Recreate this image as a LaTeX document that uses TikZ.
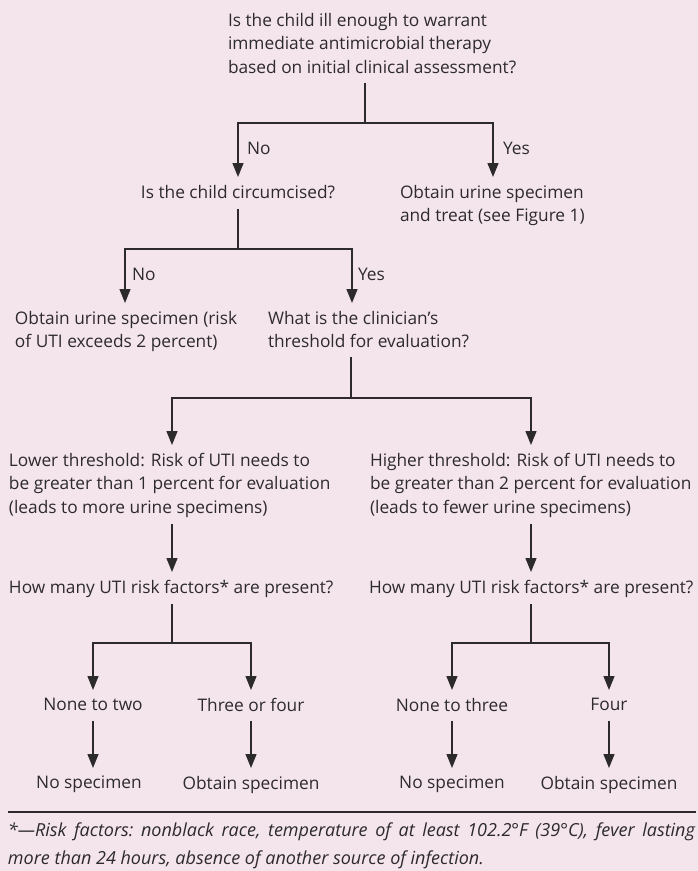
\documentclass[tikz,border=0pt]{standalone}
\usepackage{fontspec}
\setmainfont{Open Sans}
\usepackage{xcolor}
\usetikzlibrary{arrows.meta,positioning,calc}

\definecolor{bgpink}{RGB}{244,229,237}
\definecolor{ink}{RGB}{45,42,44}

\tikzset{
  txt/.style={inner sep=0pt, outer sep=0pt, align=left, text=ink,
    font=\fontsize{17.3}{23.6}\selectfont},
  ans/.style={txt, anchor=base west},
  note/.style={txt, font=\fontsize{18}{28}\selectfont\itshape\frenchspacing},
  link/.style={draw=ink, line width=1.3pt},
  arr/.style={link, -{Triangle[length=14pt,width=11pt]}, shorten >=8pt},
}

\begin{document}
\begin{tikzpicture}[x=1pt,y=-1pt]
    % Background
    \fill[bgpink] (0,0) rectangle (698,871);
    \useasboundingbox (0,0) rectangle (698,871);

    % Questions and outcomes
    \node[txt, anchor=north west] (ill) at (228,13) {Is the child ill enough to warrant\\immediate antimicrobial therapy\\based on initial clinical assessment?};
    \node[txt, anchor=north] (circ) at (238,185) {Is the child circumcised?};
    \node[txt, anchor=north west] (treat) at (400,185) {Obtain urine specimen\\and treat (see Figure 1)};
    \node[txt, anchor=north west] (uncirc) at (15,311) {Obtain urine specimen (risk\\of UTI exceeds 2 percent)};
    \node[txt, anchor=north west] (thresh) at (268,311) {What is the clinician's\\threshold for evaluation?};
    \node[txt, anchor=north west] (lower) at (9,453) {Lower threshold: Risk of UTI needs to\\be greater than 1 percent for evaluation\\(leads to more urine specimens)};
    \node[txt, anchor=north west] (higher) at (370,453) {Higher threshold: Risk of UTI needs to\\be greater than 2 percent for evaluation\\(leads to fewer urine specimens)};
    \node[txt, anchor=north west] (riskL) at (9,580) {How many UTI risk factors* are present?};
    \node[txt, anchor=north west] (riskH) at (369,580) {How many UTI risk factors* are present?};
    \node[txt, anchor=north] (two) at (93,698) {None to two};
    \node[txt, anchor=north] (threefour) at (251,698) {Three or four};
    \node[txt, anchor=north] (three) at (452,698) {None to three};
    \node[txt, anchor=north] (four) at (609,698) {Four};
    \node[txt, anchor=north] (noneL) at (89,776) {No specimen};
    \node[txt, anchor=north] (getL) at (251,776) {Obtain specimen};
    \node[txt, anchor=north] (noneH) at (452,776) {No specimen};
    \node[txt, anchor=north] (getH) at (609,776) {Obtain specimen};

    % Answers
    \node[ans] (no1) at (247,154) {No};
    \node[ans] (yes1) at (503,154) {Yes};
    \node[ans] (no2) at (132,280) {No};
    \node[ans] (yes2) at (358,280) {Yes};

    % Forks
    \coordinate (f1) at (365,123);
    \coordinate (f2) at (238,249);
    \coordinate (f3) at (351,398);
    \coordinate (f4) at (172,643);
    \coordinate (f5) at (531,643);

    \draw[link] ([yshift=-9pt]ill.south -| f1) -- (f1);
    \draw[arr] (f1) -| (circ.north);
    \draw[arr] (f1) -| ([xshift=93pt]treat.north west);

    \draw[link, shorten <=11pt] (circ.south) -- (f2);
    \draw[arr] (f2) -| ([xshift=110pt]uncirc.north west);
    \draw[arr] (f2) -| ([xshift=84pt]thresh.north west);

    \draw[link] ([yshift=-9pt]thresh.south -| f3) -- (f3);
    \draw[arr] (f3) -| ([xshift=163pt]lower.north west);
    \draw[arr] (f3) -| ([xshift=161pt]higher.north west);

    \draw[arr, shorten <=6pt] (lower.south -| f4) -- (riskL.north -| f4);
    \draw[arr, shorten <=6pt] (higher.south -| f5) -- (riskH.north -| f5);

    \draw[link, shorten <=7pt] (riskL.south -| f4) -- (f4);
    \draw[arr] (f4) -| (two.north);
    \draw[arr] (f4) -| (threefour.north);
    \draw[link, shorten <=7pt] (riskH.south -| f5) -- (f5);
    \draw[arr] (f5) -| (three.north);
    \draw[arr] (f5) -| (four.north);

    \draw[arr, shorten <=10pt] (two.south) -- (two.south |- noneL.north);
    \draw[arr, shorten <=10pt] (threefour.south) -- (threefour.south |- getL.north);
    \draw[arr, shorten <=10pt] (three.south) -- (noneH.north);
    \draw[arr, shorten <=10pt] (four.south) -- (getH.north);

    % Footnote
    \draw[link] (8,812) -- (696,812);
    \node[note, anchor=north west] (fn) at (8,823) {\makebox[687pt][s]{*—Risk factors: nonblack race, temperature of at least 102.2°F (39°C), fever lasting}\\more than 24 hours, absence of another source of infection.};
\end{tikzpicture}
\end{document}
